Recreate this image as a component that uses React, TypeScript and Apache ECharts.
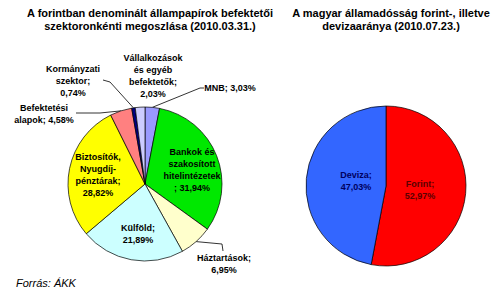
import React, { useEffect, useRef } from "react";
import * as echarts from "echarts";

const leftNames = [
  "MNB",
  "Bankok és szakosított hitelintézetek",
  "Háztartások",
  "Külföld",
  "Biztosítók, Nyugdíj-pénztárak",
  "Befektetési alapok",
  "Kormányzati szektor",
  "Vállalkozások és egyéb befektetők",
];
const leftValues = [3.03, 31.94, 6.95, 21.89, 28.82, 4.58, 0.74, 2.03];
const leftLabelTemplates = [
  "MNB; {v}",
  "Bankok és\nszakosított\nhitelintézetek\n; {v}",
  "Háztartások;\n{v}",
  "Külföld;\n{v}",
  "Biztosítók,\nNyugdíj-\npénztárak;\n{v}",
  "Befektetési\nalapok; {v}",
  "Kormányzati\nszektor;\n{v}",
  "Vállalkozások\nés egyéb\nbefektetők;\n{v}",
];
const leftColors = ["#9999FF", "#00E800", "#FFFFCC", "#CCFFFF", "#FFFF00", "#FF8080", "#000080", "#CCCCFF"];
const leftInside = [false, true, false, true, true, false, false, false];

const rightNames = ["Forint", "Deviza"];
const rightValues = [52.97, 47.03];
const rightColors = ["#FF0000", "#3366FF"];
const rightLabelColors = ["#5a0000", "#000060"];

const titleLeft = "A forintban denominált állampapírok befektetői\nszektoronkénti megoszlása (2010.03.31.)";
const titleRight = "A magyar államadósság forint-, illetve\ndevizaaránya (2010.07.23.)";
const sourceText = "Forrás: ÁKK";

// layout (label centres and leader-line bends)
const leftLabelPos: [number, number][] = [
  [230, 88],
  [192, 170],
  [224, 264],
  [138, 234],
  [98, 175],
  [44, 114],
  [73, 81],
  [153, 76],
];
const leftLineBends: ([number, number][] | null)[] = [
  [[200, 88], [204, 88]],
  null,
  [[222, 244], [223, 251]],
  null,
  null,
  [[100, 113], [76, 113]],
  [[110, 82], [103, 80]],
  null,
];
const rightLabelPos: [number, number][] = [
  [420, 190],
  [356, 181],
];

const fmt = (v: number) => v.toFixed(2).replace(".", ",") + "%";

export default function App() {
  const ref = useRef<HTMLDivElement>(null);
  useEffect(() => {
    document.body.style.margin = "0";
    const chart = echarts.init(ref.current!, undefined, { renderer: "svg" });
    const font = "'Liberation Sans', Arial, sans-serif";
    chart.setOption({
      animation: false,
      backgroundColor: "#ffffff",
      title: [
        {
          text: titleLeft,
          left: 145,
          top: 1,
          textAlign: "center",
          textStyle: { fontFamily: font, fontSize: 11, fontWeight: "bold", color: "#000", lineHeight: 13 },
        },
        {
          text: titleRight,
          left: 386,
          top: 1,
          textAlign: "center",
          textStyle: { fontFamily: font, fontSize: 11, fontWeight: "bold", color: "#000", lineHeight: 13 },
        },
        {
          text: sourceText,
          left: 11,
          top: 272,
          textStyle: { fontFamily: font, fontSize: 11, fontStyle: "italic", fontWeight: "normal", color: "#000" },
        },
      ],
      series: [
        {
          type: "pie",
          center: [145, 184],
          radius: 77,
          startAngle: 90,
          clockwise: true,
          avoidLabelOverlap: false,
          itemStyle: { borderColor: "#000", borderWidth: 0.7 },
          label: {
            fontFamily: font,
            fontSize: 9,
            fontWeight: "bold",
            color: "#000",
            lineHeight: 12,
            align: "center",
          },
          labelLine: { lineStyle: { color: "#000", width: 0.8 }, length: 10, length2: 10 },
          labelLayout: (params: any) => {
            const i = params.dataIndex;
            const p = leftLabelPos[i];
            const res: any = { x: p[0], y: p[1], align: "center", verticalAlign: "middle" };
            const bends = leftLineBends[i];
            if (bends && params.labelLinePoints) {
              res.labelLinePoints = [params.labelLinePoints[0], bends[0], bends[1]];
            }
            return res;
          },
          data: leftNames.map((n, i) => ({
            name: n,
            value: leftValues[i],
            itemStyle: { color: leftColors[i] },
            label: {
              position: leftInside[i] ? "inside" : "outside",
              formatter: leftLabelTemplates[i].replace("{v}", fmt(leftValues[i])),
            },
            labelLine: { show: !leftInside[i] && leftLineBends[i] !== null },
          })),
        },
        {
          type: "pie",
          center: [386, 186],
          radius: 80,
          startAngle: 90,
          clockwise: true,
          avoidLabelOverlap: false,
          itemStyle: { borderColor: "#000", borderWidth: 0.7 },
          label: {
            position: "inside",
            fontFamily: font,
            fontSize: 9,
            fontWeight: "bold",
            lineHeight: 12,
            align: "center",
          },
          labelLayout: (params: any) => {
            const p = rightLabelPos[params.dataIndex];
            return { x: p[0], y: p[1], align: "center", verticalAlign: "middle" };
          },
          data: rightNames.map((n, i) => ({
            name: n,
            value: rightValues[i],
            itemStyle: { color: rightColors[i] },
            label: { color: rightLabelColors[i], formatter: n + ";\n" + fmt(rightValues[i]) },
          })),
        },
      ],
    });
    return () => chart.dispose();
  }, []);
  return <div ref={ref} style={{ width: 500, height: 296 }} />;
}
